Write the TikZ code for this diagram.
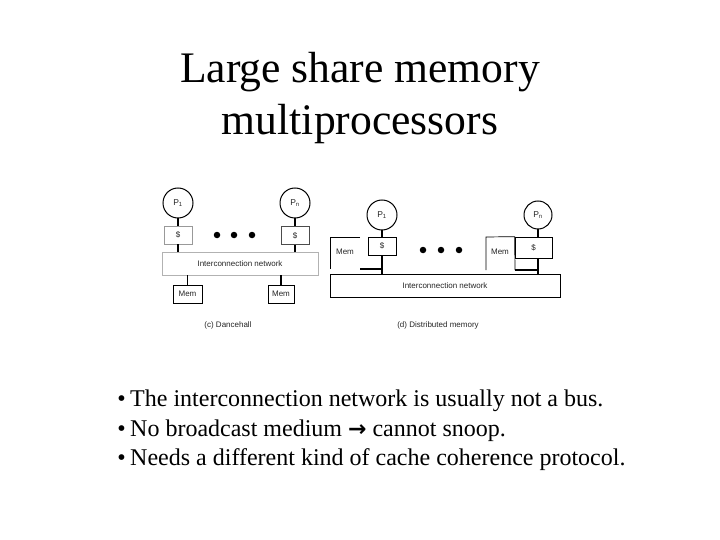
\documentclass[tikz,border=0pt]{standalone}
\usepackage{fontspec}
\setmainfont{Liberation Serif}
\newfontfamily\labfont{Liberation Sans}
\begin{document}
\begin{tikzpicture}[x=1pt,y=-1pt,
  lab/.style={font=\labfont\fontsize{8}{9}\selectfont, text=black!85},
  proc/.style={circle, draw, line width=1pt, inner sep=0pt, minimum size=30pt, font=\labfont\fontsize{8.5}{9}\selectfont, text=black!85},
  cbox/.style={draw, line width=0.7pt, inner sep=0pt, lab},
  conn/.style={line width=1.6pt},
  dotc/.style={circle, fill=black, inner sep=0pt, minimum size=6.5pt},
  bul/.style={font=\fontsize{24}{28}\selectfont, anchor=base west, inner sep=0pt},
  ttl/.style={font=\fontsize{43.6}{52}\selectfont, anchor=base, inner sep=0pt}
]
\useasboundingbox (0,0) rectangle (720,540);
\fill[white] (0,0) rectangle (720,540);

% title
\node[ttl] (t1) at (360,83) {Large share memory};
\node[ttl] (t2) at (360,135) {multiprocessors};

% ---------- (c) Dancehall ----------
\node[proc] (p1) at (178,203) {P\textsubscript{1}};
\node[proc] (pn) at (295,203) {P\textsubscript{n}};
\node[cbox, draw=black!40, minimum width=28pt, minimum height=18pt] (c1) at (178,235) {\$};
\node[cbox, draw=black!70, minimum width=28pt, minimum height=18pt] (cn) at (295,235.5) {\$};
\node[dotc] (da1) at (217,235) {};
\node[dotc] (da2) at (234,235) {};
\node[dotc] (da3) at (252,235) {};
\node[cbox, draw=black!30, minimum width=156pt, minimum height=23pt] (net1) at (240,263.5) {Interconnection network};
\node[cbox, line width=0.9pt, minimum width=29pt, minimum height=18pt] (m1) at (187.5,294) {Mem};
\node[cbox, line width=0.9pt, minimum width=26pt, minimum height=18pt] (m2) at (281,294) {Mem};
\draw[conn] (p1) -- (c1);
\draw[conn] (pn) -- (cn);
\draw[conn] (c1.south) -- (c1.south |- net1.north);
\draw[conn] (cn.south) -- (cn.south |- net1.north);
\draw[conn] (m1.north) -- (m1.north |- net1.south);
\draw[conn] (m2.north) -- (m2.north |- net1.south);
\node[lab] (capc) at (228,325) {(c) Dancehall};

% ---------- (d) Distributed memory ----------
\node[proc] (q1) at (382,215) {P\textsubscript{1}};
\node[proc, minimum size=28pt] (qn) at (538,215) {P\textsubscript{n}};
\node[cbox, minimum width=28pt, minimum height=18pt] (d1) at (382,246) {\$};
\node[cbox, minimum width=37pt, minimum height=21pt] (dn) at (533.5,247.5) {\$};
\node[cbox, line width=0.9pt, minimum width=230pt, minimum height=23pt] (net2) at (445,285.5) {Interconnection network};
\node[lab] (mt1) at (345,252) {Mem};
\node[lab] (mt2) at (500,252) {Mem};
\coordinate (ma) at (360,237);
\coordinate (mb) at (330,237);
\coordinate (mc) at (330,269);
\coordinate (md) at (360,269);
\coordinate (me) at (486,270);
\coordinate (mf) at (486,237);
\coordinate (mg) at (515,270);
\draw[line width=0.7pt] (ma) -- (mb) -- (mc);
\draw[line width=0.7pt] (me) -- (mf) -- (dn.north west) -- (mg);
\node[dotc] (db1) at (423,250) {};
\node[dotc] (db2) at (441,250) {};
\node[dotc] (db3) at (459,250) {};
\draw[conn] (q1) -- (d1);
\draw[conn] (qn) -- (qn |- dn.north);
\draw[conn] (d1.south) -- (d1.south |- net2.north);
\draw[conn] (qn |- dn.south) -- (qn |- net2.north);
\draw[conn] (md) -- (md -| d1.south);
\draw[conn] (mg) -- (mg -| qn);
\node[lab] (capd) at (438,325) {(d) Distributed memory};

% bullets
\node[bul] (b1) at (130,406) {The interconnection network is usually not a bus.};
\node[bul] (b2) at (130,436) {No broadcast medium {\fontspec{DejaVu Sans}\fontsize{22}{24}\selectfont\bfseries →} cannot snoop.};
\node[bul] (b3) at (130,465) {Needs a different kind of cache coherence protocol.};
\node[bul, anchor=base east] (k1) at (126,406) {•};
\node[bul, anchor=base east] (k2) at (126,436) {•};
\node[bul, anchor=base east] (k3) at (126,465) {•};
\end{tikzpicture}
\end{document}
